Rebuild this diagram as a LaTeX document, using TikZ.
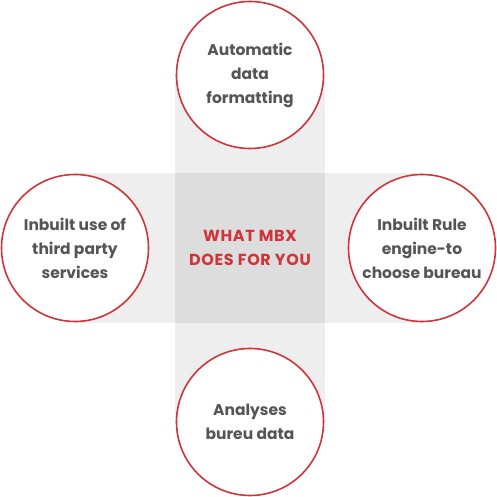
\documentclass[tikz,border=0pt]{standalone}
\usepackage{fontspec}
\setmainfont{Poppins}
\usepackage{xcolor}
\definecolor{mbxred}{RGB}{206,52,58}
\definecolor{mbxtext}{RGB}{85,85,85}
\definecolor{bandgray}{RGB}{238,238,238}
\definecolor{coregray}{RGB}{221,221,221}

\begin{document}
\begin{tikzpicture}[x=1pt,y=1pt,
  feature/.style={circle,draw=mbxred,line width=1.6pt,fill=white,minimum size=147pt,inner sep=0pt,
    align=center,text=mbxtext,font=\fontsize{15.5}{24}\selectfont\bfseries}]
\useasboundingbox (0,0) rectangle (497,497);

\draw[fill=bandgray,draw=none] (175,75) rectangle (325,422);
\draw[fill=bandgray,draw=none] (75,174) rectangle (422,324);
\draw[fill=coregray,draw=none] (175,174) rectangle (325,324);
\node[text=mbxred,align=center,font=\fontsize{16}{23.5}\selectfont\bfseries\addfontfeature{LetterSpace=4}] (core) at (250,249) {WHAT MBX\\DOES FOR YOU};

\node[feature] (top) at (250,422) {Automatic\\data\\formatting};
\node[feature] (left) at (75,249) {Inbuilt use of\\third party\\services};
\node[feature] (right) at (422,249) {Inbuilt Rule\\engine-to\\choose bureau};
\node[feature] (bottom) at (250,75) {Analyses\\bureu data};
\end{tikzpicture}
\end{document}
